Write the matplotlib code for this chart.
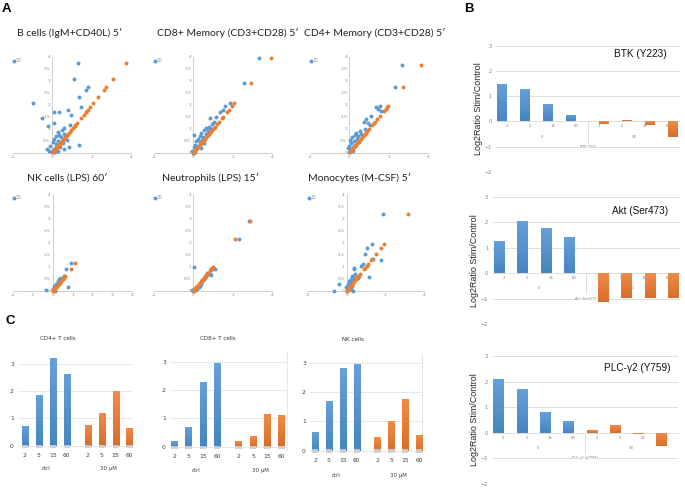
import matplotlib.pyplot as plt
import matplotlib.colors as mcolors
import numpy as np

W, H = 685, 488
BLUE = '#5b9bd5'
ORANGE = '#ed7d31'
BAR_BLUE = '#4f94d6'
BAR_ORANGE = '#ef7b30'
GRID = '#d9d9d9'

# ---- panel A: y is shared, orange sits on y = x, blue is the "30" series ----
bcell_y = [3.74, 3.08, 2.74, 2.62, 2.32, 2.07, 1.90, 1.79, 1.69, 1.69, 1.60, 1.44,
           1.27, 1.17, 1.13, 1.05, 0.96, 0.89, 0.80, 0.75, 0.70, 0.65, 0.60, 0.55,
           0.50, 0.45, 0.42, 0.38, 0.33, 0.30, 0.26, 0.25, 0.20, 0.18, 0.15, 0.12,
           0.10, 0.08, 0.05, 0.03]
bcell_x = [1.30, 1.12, 1.81, 1.73, 1.35, -0.98, 1.44, 0.81, 0.09, 0.32, 0.97, -0.52,
           0.07, 0.89, -0.22, 0.57, 0.47, 0.27, 0.60, 0.35, 0.20, 0.45, 0.10, 0.75,
           0.30, 0.05, 0.55, 0.20, 1.37, -0.10, 0.86, 0.40, 0.15, -0.25, 0.60, 0.05,
           -0.15, 0.30, 0.00, 0.15]

cd8_y = [3.94, 2.92, 2.07, 1.96, 1.80, 1.72, 1.50, 1.44, 1.30, 1.20, 1.10, 1.06,
         1.03, 0.95, 0.90, 0.85, 0.80, 0.76, 0.70, 0.65, 0.60, 0.55, 0.50, 0.45,
         0.40, 0.35, 0.30, 0.25, 0.20, 0.15, 0.10, 0.05, 0.02]
cd8_x = [3.32, 2.58, 1.85, 1.59, 1.50, 1.35, 1.15, 0.84, 1.05, 0.95, 0.80, 0.87,
         0.62, 0.55, 0.75, 0.40, 0.65, 0.02, 0.35, 0.50, 0.25, 0.45, 0.15, 0.35,
         0.55, 0.10, 0.25, 0.05, 0.40, 0.15, -0.05, 0.10, 0.00]

cd4_y = [3.65, 2.75, 1.95, 1.90, 1.85, 1.75, 1.54, 1.40, 1.30, 1.25, 1.15, 1.00,
         0.90, 0.85, 0.80, 0.75, 0.70, 0.65, 0.60, 0.55, 0.50, 0.45, 0.40, 0.35,
         0.30, 0.25, 0.20, 0.15, 0.10, 0.05]
cd4_x = [2.69, 2.30, 1.55, 1.38, 1.45, 1.60, 1.10, 0.85, 0.75, 0.95, 1.05, 0.80,
         0.55, 0.35, 0.60, 0.30, 0.45, 0.15, 0.40, 0.05, 0.25, 0.50, 0.10, 0.30,
         0.00, 0.20, -0.05, 0.10, 0.20, 0.00]

nk_y = [1.15, 0.90, 0.60, 0.55, 0.50, 0.48, 0.45, 0.40, 0.35, 0.30, 0.25, 0.20,
        0.15, 0.12, 0.10, 0.06, 0.05, 0.03, 0.02]
nk_x = [0.93, 0.67, 0.55, 0.40, 0.35, 0.32, 0.45, 0.25, 0.30, 0.15, 0.20, 0.05,
        0.79, 0.10, 0.00, 0.05, -0.32, 0.02, 0.10]

neut_y = [2.89, 2.14, 0.98, 0.95, 0.90, 0.85, 0.75, 0.70, 0.67, 0.60, 0.55, 0.50,
          0.45, 0.40, 0.35, 0.30, 0.20, 0.15, 0.12, 0.10, 0.08, 0.05, 0.03, 0.02]
neut_x = [2.83, 2.32, 0.02, 1.00, 1.10, 0.90, 0.70, 0.85, 0.90, 0.65, 0.60, 0.55,
          0.50, 0.45, 0.38, 0.40, 0.35, 0.30, 0.15, 0.20, 0.05, 0.10, -0.05, 0.00]

mono_y = [3.19, 1.93, 1.78, 1.53, 1.32, 1.28, 1.12, 1.05, 0.96, 0.90, 0.70, 0.62,
          0.58, 0.56, 0.55, 0.50, 0.45, 0.40, 0.35, 0.30, 0.27, 0.25, 0.20, 0.15,
          0.12, 0.08, 0.05, 0.02, 0.02]
mono_x = [1.86, 1.33, 1.07, 0.95, 1.35, 1.78, 0.83, 0.74, 0.40, 0.40, 0.45, 0.25,
          0.35, 1.17, 0.60, 0.20, 0.30, 0.10, 0.25, 0.05, -0.38, 0.15, 0.30, -0.05,
          0.10, 0.20, 0.00, -0.64, 0.35]

# ---- panel B ----
b_times = ['2', '5', '15', '60']
btk_blue = [1.47, 1.27, 0.69, 0.24]
btk_orange = [-0.09, 0.06, -0.13, -0.60]
akt_blue = [1.26, 2.05, 1.78, 1.43]
akt_orange = [-1.14, -0.99, -0.96, -0.99]
plc_blue = [2.09, 1.70, 0.82, 0.46]
plc_orange = [0.10, 0.30, -0.03, -0.52]

# ---- panel C ----
c_times = ['2', '5', '15', '60']
cd4_ctrl = [0.72, 1.84, 3.23, 2.63]
cd4_30 = [0.76, 1.21, 2.01, 0.66]
cd8_ctrl = [0.20, 0.71, 2.28, 2.94]
cd8_30 = [0.19, 0.38, 1.16, 1.11]
nkc_ctrl = [0.63, 1.69, 2.82, 2.95]
nkc_30 = [0.47, 1.01, 1.75, 0.53]

fig = plt.figure(figsize=(W / 100, H / 100), dpi=100)


def axes_px(left, top, right, bottom):
    return fig.add_axes([left / W, 1 - bottom / H, (right - left) / W, (bottom - top) / H])


def ftext(x, y, s, **kw):
    fig.text(x / W, 1 - y / H, s, **kw)


def shade_bars(ax, bars, color):
    # Excel-like vertical gradient: a bit lighter at the top, darker at the bottom
    base = np.array(mcolors.to_rgb(color))
    light = base + (1 - base) * 0.12
    dark = base * 0.9
    grad = np.linspace(0, 1, 32)[:, None, None]
    img = light * (1 - grad) + dark * grad
    for b in bars:
        x0, y0 = b.get_x(), b.get_y()
        w, h = b.get_width(), b.get_height()
        lo, hi = min(y0, y0 + h), max(y0, y0 + h)
        im = ax.imshow(img, extent=(x0, x0 + w, lo, hi), origin='upper',
                       aspect='auto', zorder=b.get_zorder() + 0.1)
        im.set_clip_path(b)


def scatter_panel(box, ys, xs, xticks):
    ax = axes_px(*box)
    ax.scatter(xs, ys, s=8, color=BLUE, linewidths=0, label='30', clip_on=False, zorder=3)
    ax.scatter(ys, ys, s=8, color=ORANGE, linewidths=0, clip_on=False, zorder=4)
    ax.set_xlim(-2, 4)
    ax.set_ylim(0, 4)
    for side in ['top', 'right']:
        ax.spines[side].set_visible(False)
    ax.spines['left'].set_position(('data', 0))
    ax.spines['bottom'].set_position(('data', 0))
    for side in ['left', 'bottom']:
        ax.spines[side].set_color('#c8c8c8')
        ax.spines[side].set_linewidth(0.6)
    yt = np.arange(0, 4.01, 0.5)
    ax.set_yticks(yt)
    ax.set_yticklabels([f'{v:g}' for v in yt])
    ax.set_xticks(xticks)
    ax.set_xticklabels([f'{v:g}' for v in xticks])
    ax.tick_params(length=0, labelsize=3.2, colors='#8c8c8c', pad=1.5)
    ax.patch.set_alpha(0)
    ax.legend(loc='upper left', bbox_to_anchor=(-0.03, 1.01), frameon=False,
              fontsize=3.3, labelcolor='#8c8c8c', handletextpad=0.1,
              handlelength=0.8, borderpad=0, markerscale=1.0)
    return ax


top_t = [-2, 0, 2, 4]
scatter_panel((13, 57, 131, 153), bcell_y, bcell_x, top_t)
scatter_panel((154, 57, 272, 153), cd8_y, cd8_x, top_t)
scatter_panel((310, 57, 428, 153), cd4_y, cd4_x, top_t)
scatter_panel((13, 194, 132, 291), nk_y, nk_x, [-2, -1, 0, 1, 2, 3, 4])
scatter_panel((154, 194, 272, 291), neut_y, neut_x, top_t)
scatter_panel((308, 194, 424, 291), mono_y, mono_x, top_t)

tfont = dict(family='Lato', fontsize=7.5, color='#222222', ha='center', va='center')
ftext(70, 33, 'B cells (IgM+CD40L) 5\u2032', **tfont)
ftext(228, 33, 'CD8+ Memory (CD3+CD28) 5\u2032', **tfont)
ftext(375, 33, 'CD4+ Memory (CD3+CD28) 5\u2032', **tfont)
ftext(67, 178, 'NK cells (LPS) 60\u2032', **tfont)
ftext(210, 178, 'Neutrophils (LPS) 15\u2032', **tfont)
ftext(360, 178, 'Monocytes (M-CSF) 5\u2032', **tfont)


def bar_panel(box, xl, blue, orange, orange_shift, title, title_xy, sub):
    ax = axes_px(*box)
    x = np.arange(8)
    bb = ax.bar(x[:4] - 0.22, blue, width=0.43, color=BAR_BLUE, zorder=3)
    bo = ax.bar(x[4:] + orange_shift, orange, width=0.43, color=BAR_ORANGE, zorder=3)
    shade_bars(ax, bb, BAR_BLUE)
    shade_bars(ax, bo, BAR_ORANGE)
    ax.set_xlim(*xl)
    ax.set_ylim(-2, 3)
    for v in [-2, -1, 1, 2, 3]:
        ax.axhline(v, color=GRID, lw=0.6, zorder=0)
    for side in ['top', 'right', 'left']:
        ax.spines[side].set_visible(False)
    ax.spines['bottom'].set_position(('data', 0))
    ax.spines['bottom'].set_color(GRID)
    ax.spines['bottom'].set_linewidth(0.6)
    ax.set_yticks(range(-2, 4))
    ax.set_xticks(x)
    ax.set_xticklabels(b_times * 2)
    ax.tick_params(axis='x', length=0, labelsize=2.8, colors='#7f7f7f', pad=2)
    ax.tick_params(axis='y', length=0, labelsize=3.6, colors='#7f7f7f', pad=3)
    ax.plot([3.5, 3.5], [0, -0.8], color=GRID, lw=0.6)
    ax.text(1.5, -0.6, '0', fontsize=2.8, color='#7f7f7f', ha='center', va='center')
    ax.text(5.5, -0.6, '30', fontsize=2.8, color='#7f7f7f', ha='center', va='center')
    ax.text(3.5, -1.0, sub, fontsize=2.4, color='#7f7f7f', ha='center', va='center',
            bbox=dict(facecolor='white', edgecolor='none', pad=0.3), zorder=5)
    ax.set_ylabel('Log2Ratio Stim/Control', fontsize=6.4, family='Liberation Sans',
                  color='#222222', labelpad=1)
    ax.patch.set_alpha(0)
    ftext(title_xy[0], title_xy[1], title, fontsize=7.2, family='Liberation Sans',
          color='#111111', ha='center', va='center')


bar_panel((495.8, 45.7, 679.8, 172), (-0.5, 7.5), btk_blue, btk_orange, 0.22,
          'BTK (Y223)', (640, 54), 'BTK Y223')
bar_panel((492.3, 196.7, 679.5, 324), (-0.5, 7.5), akt_blue, akt_orange, 0.22,
          'Akt (Ser473)', (640, 211), 'Akt (Ser473)')
bar_panel((491.8, 356, 678.2, 484), (-0.5, 7.5), plc_blue, plc_orange, -0.22,
          'PLC-\u03b32 (Y759)', (637, 368), 'PLC-\u03b32 (pY759)')


def c_panel(box, xl, yl, ctrl, drug, title, title_xy, right_frame):
    ax = axes_px(*box)
    pos = np.array([0, 1, 2, 3, 4.5, 5.5, 6.5, 7.5])
    bb = ax.bar(pos[:4], ctrl, width=0.45, color=BAR_BLUE, zorder=3)
    bo = ax.bar(pos[4:], drug, width=0.45, color=BAR_ORANGE, zorder=3)
    shade_bars(ax, bb, BAR_BLUE)
    shade_bars(ax, bo, BAR_ORANGE)
    ax.bar(pos, 0.13, bottom=-0.09, width=0.45, color='#cfcfcf', alpha=0.9, zorder=4)
    ax.set_xlim(*xl)
    ax.set_ylim(*yl)
    for v in range(4):
        ax.axhline(v, color='#e3e3e3', lw=0.6, zorder=0)
    for side in ['top', 'left', 'bottom']:
        ax.spines[side].set_visible(False)
    ax.spines['right'].set_visible(right_frame)
    ax.spines['right'].set_color('#e3e3e3')
    ax.spines['right'].set_linewidth(0.6)
    ax.set_yticks(range(4))
    ax.set_xticks(pos)
    ax.set_xticklabels(c_times * 2)
    ax.tick_params(length=0, labelsize=4.3, colors='#404040', pad=3)
    ax.text(1.5, -0.85, 'ctrl', fontsize=3.9, color='#404040', ha='center', va='center')
    ax.text(6.0, -0.85, '30 \u00b5M', fontsize=3.9, color='#404040', ha='center', va='center')
    ax.patch.set_alpha(0)
    ftext(title_xy[0], title_xy[1], title, fontsize=4.1, color='#333333',
          ha='center', va='center')


c_panel((18, 352.9, 133, 448.4), (-0.48, 7.74), (-0.1, 3.4), cd4_ctrl, cd4_30,
        'CD4+ T cells', (58.3, 339), False)
c_panel((170, 351.9, 286.7, 449.5), (-0.3, 7.86), (-0.1, 3.35), cd8_ctrl, cd8_30,
        'CD8+ T cells', (218.3, 338.3), True)
c_panel((310, 354, 422.3, 453.6), (-0.36, 7.72), (-0.1, 3.3), nkc_ctrl, nkc_30,
        'NK cells', (353.3, 339.3), True)

lfont = dict(fontsize=9.5, fontweight='bold', family='Liberation Sans', va='center', ha='left')
ftext(2, 9, 'A', **lfont)
ftext(464, 9, 'B', **lfont)
ftext(5, 321, 'C', **lfont)

fig.savefig('out.png', dpi=100)
